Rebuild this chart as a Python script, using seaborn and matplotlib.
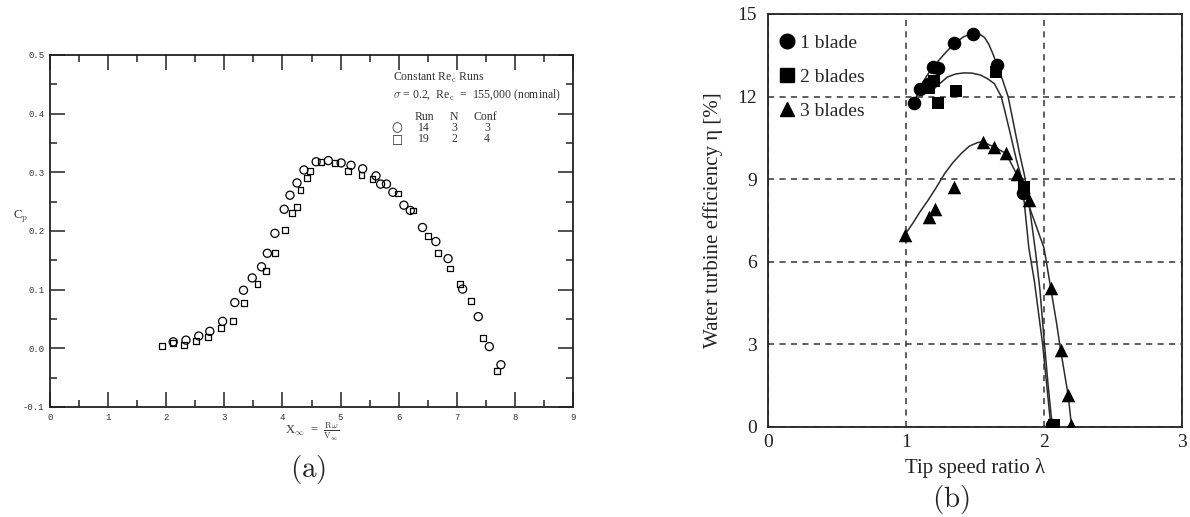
import numpy as np
import pandas as pd
import matplotlib
matplotlib.use("Agg")
import matplotlib.pyplot as plt
from matplotlib.lines import Line2D
from matplotlib.ticker import MultipleLocator, FormatStrFormatter
import seaborn as sns

# ---------------- Panel (a) data: Cp vs X_inf ----------------
run14_x = [2.12, 2.34, 2.56, 2.75, 2.97, 3.18, 3.33, 3.48, 3.64, 3.74, 3.87, 4.03, 4.13,
           4.25, 4.37, 4.58, 4.79, 5.01, 5.18, 5.38, 5.61, 5.69, 5.79, 5.90, 6.09, 6.20,
           6.41, 6.64, 6.85, 7.10, 7.37, 7.56, 7.76]
run14_cp = [0.011, 0.014, 0.021, 0.029, 0.046, 0.078, 0.099, 0.120, 0.139, 0.162, 0.196,
            0.237, 0.261, 0.282, 0.304, 0.318, 0.320, 0.316, 0.312, 0.306, 0.294, 0.280,
            0.280, 0.266, 0.244, 0.235, 0.206, 0.182, 0.153, 0.101, 0.054, 0.003, -0.028]
run19_x = [1.92, 2.12, 2.31, 2.52, 2.72, 2.94, 3.15, 3.34, 3.57, 3.71, 3.87, 4.04, 4.17,
           4.25, 4.31, 4.42, 4.47, 4.67, 4.90, 5.13, 5.36, 5.55, 5.99, 6.25, 6.51, 6.67,
           6.88, 7.05, 7.24, 7.45, 7.69]
run19_cp = [0.004, 0.009, 0.006, 0.013, 0.020, 0.035, 0.046, 0.078, 0.110, 0.132, 0.162,
            0.201, 0.231, 0.241, 0.270, 0.291, 0.303, 0.318, 0.316, 0.303, 0.295, 0.288,
            0.264, 0.235, 0.192, 0.162, 0.136, 0.110, 0.080, 0.017, -0.039]

# ---------------- Panel (b) data: efficiency vs tip speed ratio ----------------
b1_lam = [1.06, 1.10, 1.16, 1.195, 1.23, 1.35, 1.484, 1.66, 1.845, 2.06]
b1_eta = [11.77, 12.29, 12.45, 13.08, 13.02, 13.93, 14.29, 13.14, 8.48, 0.06]
b2_lam = [1.17, 1.20, 1.23, 1.363, 1.653, 1.857, 2.07]
b2_eta = [12.3, 12.55, 11.75, 12.21, 12.9, 8.72, 0.06]
b3_lam = [0.99, 1.17, 1.207, 1.351, 1.556, 1.636, 1.725, 1.804, 1.893, 2.05, 2.122, 2.175, 2.194]
b3_eta = [6.96, 7.63, 7.9, 8.72, 10.35, 10.17, 9.93, 9.2, 8.23, 5.03, 2.79, 1.15, 0.06]

# fitted curves
c1_lam = [1.06, 1.10, 1.15, 1.20, 1.27, 1.35, 1.42, 1.48, 1.53, 1.57, 1.60, 1.63, 1.66,
          1.70, 1.74, 1.78, 1.82, 1.86, 1.90, 1.94, 1.97, 2.00, 2.03, 2.06]
c1_eta = [11.8, 12.3, 12.75, 13.1, 13.5, 13.93, 14.18, 14.29, 14.28, 14.14, 13.9, 13.55,
          13.14, 12.6, 12.0, 11.0, 10.0, 9.1, 7.8, 6.3, 5.0, 3.2, 1.5, 0.0]
c2_lam = [1.18, 1.24, 1.30, 1.36, 1.42, 1.48, 1.54, 1.59, 1.64, 1.69, 1.72, 1.75, 1.80,
          1.84, 1.89, 1.93, 1.99, 2.02, 2.05]
c2_eta = [12.17, 12.45, 12.71, 12.82, 12.86, 12.85, 12.78, 12.65, 12.47, 12.0, 11.4, 10.77,
          9.7, 9.0, 6.5, 5.3, 3.0, 1.5, 0.0]
c3_lam = [0.99, 1.05, 1.10, 1.16, 1.22, 1.28, 1.34, 1.40, 1.46, 1.52, 1.556, 1.636, 1.725,
          1.80, 1.85, 1.90, 1.95, 2.00, 2.05, 2.09, 2.12, 2.15, 2.175, 2.20]
c3_eta = [6.96, 7.4, 7.8, 8.23, 8.7, 9.2, 9.6, 9.93, 10.2, 10.33, 10.35, 10.17, 9.93,
          9.2, 8.7, 7.9, 7.2, 6.5, 5.0, 3.8, 2.8, 1.9, 1.15, 0.0]

legend_b = ["1 blade", "2 blades", "3 blades"]

sns.set_theme(style="white")
plt.rcParams['font.family'] = ['Liberation Serif', 'DejaVu Serif']
plt.rcParams['mathtext.fontset'] = 'cm'
plt.rcParams['axes.unicode_minus'] = False

W, H = 1190, 517
fig = plt.figure(figsize=(W / 100, H / 100), dpi=100)
fig.patch.set_facecolor("white")


def fx(px):
    return px / W


def fy(py):
    return 1 - py / H


# ---------------- Panel (a) ----------------
axa = fig.add_axes([fx(50), fy(407), fx(573) - fx(50), fy(55) - fy(407)])
sns.scatterplot(x=run14_x, y=run14_cp, marker='o', s=34, facecolor='none',
                edgecolor='black', linewidth=0.9, ax=axa)
sns.scatterplot(x=run19_x, y=run19_cp, marker='s', s=18, facecolor='none',
                edgecolor='black', linewidth=0.9, ax=axa)
axa.set_xlim(0, 9)
axa.set_ylim(-0.1, 0.5)
axa.xaxis.set_major_locator(MultipleLocator(1))
axa.xaxis.set_minor_locator(MultipleLocator(0.5))
axa.yaxis.set_major_locator(MultipleLocator(0.1))
axa.yaxis.set_minor_locator(MultipleLocator(0.05))
axa.yaxis.set_major_formatter(FormatStrFormatter('%.1f'))
axa.tick_params(which='both', direction='in', top=True, right=True, bottom=True, left=True,
                color='#222222', width=1.1)
axa.tick_params(which='major', length=11, pad=4, labelsize=6.5)
axa.tick_params(which='minor', length=5)
for lab in axa.get_xticklabels() + axa.get_yticklabels():
    lab.set_family('Liberation Mono')
    lab.set_color('#333333')
for sp in axa.spines.values():
    sp.set_color('#222222')
    sp.set_linewidth(1.3)
axa.set_xlabel("")
axa.set_ylabel("")

fig.text(fx(13), fy(217), r"C$_{\rm p}$", fontsize=9, va='center', ha='left', color='#333')
fig.text(fx(285), fy(432), r"X$_\infty$  =  $\frac{\rm R\omega}{\rm V_\infty}$",
         fontsize=9, va='center', ha='left', color='#333')

lc = '#333333'
fig.text(fx(393), fy(78), r"Constant Re$_{\rm c}$ Runs", fontsize=8.5, va='center', color=lc)
fig.text(fx(393), fy(95), r"$\sigma$ = 0.2,  Re$_{\rm c}$  =  155,000 (nominal)", fontsize=8.5,
         va='center', color=lc)
for txt, xp in [("Run", 424), ("N", 454), ("Conf", 485)]:
    fig.text(fx(xp), fy(117), txt, fontsize=8.5, ha='center', va='center', color=lc)
fig.text(fx(397), fy(128), "○", fontsize=9, ha='center', va='center', family='DejaVu Sans', color='#222')
fig.text(fx(397), fy(139.5), "□", fontsize=8.5, ha='center', va='center', family='DejaVu Sans', color='#222')
for row, yp in [(("14", "3", "3"), 128), (("19", "2", "4"), 139)]:
    for txt, xp in zip(row, [424, 454, 487]):
        fig.text(fx(xp), fy(yp), txt, fontsize=8.5, ha='center', va='center', color=lc)

fig.text(fx(308), fy(470), r"$\mathrm{(a)}$", fontsize=21, ha='center', va='center')

# ---------------- Panel (b) ----------------
axb = fig.add_axes([fx(768), fy(426.7), fx(1182) - fx(768), fy(14) - fy(426.7)])
line_c = '#2b2b2b'
for lx, ly in [(c1_lam, c1_eta), (c2_lam, c2_eta), (c3_lam, c3_eta)]:
    sns.lineplot(x=lx, y=ly, sort=False, estimator=None, color=line_c, linewidth=1.1, ax=axb)
sns.scatterplot(x=b1_lam, y=b1_eta, marker='o', s=95, color='black', edgecolor='black',
                linewidth=0, ax=axb, zorder=3)
sns.scatterplot(x=b2_lam, y=b2_eta, marker='s', s=80, color='black', edgecolor='black',
                linewidth=0, ax=axb, zorder=3)
sns.scatterplot(x=b3_lam, y=b3_eta, marker='^', s=95, color='black', edgecolor='black',
                linewidth=0, ax=axb, zorder=3)

axb.set_xlim(0, 3)
axb.set_ylim(0, 15)
axb.set_xticks([0, 1, 2, 3])
axb.set_yticks([0, 3, 6, 9, 12, 15])
axb.grid(True, linestyle=(0, (4, 3.5)), color='#333333', linewidth=1.1)
axb.set_axisbelow(True)
axb.tick_params(length=0, labelsize=14, colors='#222222')
axb.tick_params(axis='y', pad=8)
axb.tick_params(axis='x', pad=5)
for sp in axb.spines.values():
    sp.set_color('#222222')
    sp.set_linewidth(1.3)
axb.set_xlabel("Tip speed ratio λ", fontsize=15, labelpad=5, color='#222')
axb.set_ylabel("Water turbine efficiency η [%]", fontsize=15, labelpad=10, color='#222')

handles = [Line2D([], [], marker=m, ls='', color='black', markersize=ms)
           for m, ms in [('o', 10.5), ('s', 9.5), ('^', 10.5)]]
axb.legend(handles=handles, labels=legend_b, loc='upper left', bbox_to_anchor=(-0.02, 1.0),
           frameon=False, fontsize=14, handlelength=0.7, handletextpad=0.3,
           labelspacing=0.85, borderaxespad=0.3, borderpad=0.75)

fig.text(fx(951), fy(500), r"$\mathrm{(b)}$", fontsize=21, ha='center', va='center')

fig.savefig("out.png", dpi=100, facecolor='white')
